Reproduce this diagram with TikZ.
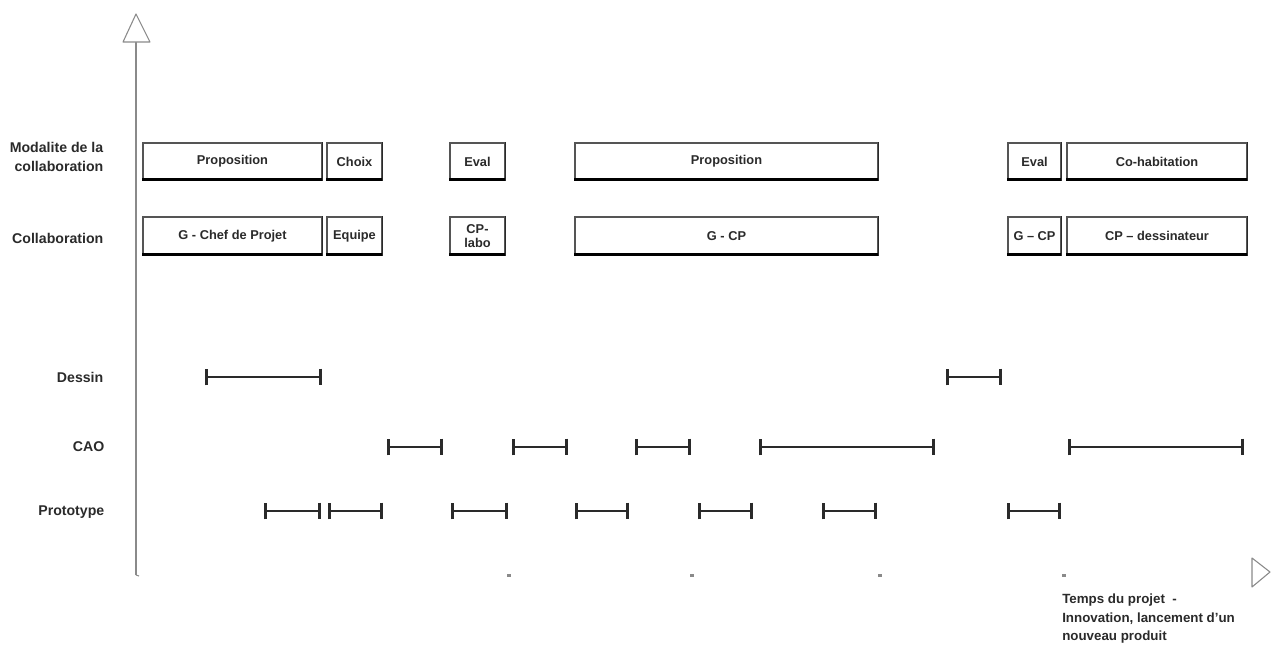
\documentclass[tikz,border=0pt]{standalone}
\usepackage{fontspec}
\setmainfont{Liberation Sans}
\usetikzlibrary{arrows.meta}
\definecolor{axisgray}{HTML}{8A8A8A}
\definecolor{framegray}{HTML}{555555}
\definecolor{inkgray}{HTML}{2A2A2A}
\tikzset{
  tbox/.style={draw=framegray, line width=0.9pt, fill=white, inner sep=0pt,
    font=\bfseries\fontsize{9.6}{10.2}\selectfont, text=inkgray, align=center},
  shadowline/.style={line width=2.4pt, black},
  sideline/.style={line width=1.3pt, inkgray},
  rowlabel/.style={anchor=east, font=\bfseries\fontsize{10.6}{14}\selectfont, align=right, text=inkgray},
  spanline/.style={line width=1.9pt, inkgray, {Bar[width=12.5pt,line width=1.9pt]}-{Bar[width=12.5pt,line width=1.9pt]}},
  axisline/.style={line width=1.4pt, axisgray},
  axishead/.style={draw=axisgray, line width=0.8pt, fill=white, line join=round},
  tickmark/.style={fill=axisgray},
  notetext/.style={anchor=west, text=inkgray, inner sep=0pt}
}
% box: name, x-left, x-right, y-top, y-bottom, text
\newcommand\tlbox[6]{%
  \node[tbox, minimum width={(#3-#2)*0.75pt}, minimum height={(#5-#4)*0.75pt}]
    (#1) at ({(#2+#3)/2},{(#4+#5)/2}) {#6};
  \draw[shadowline] ([yshift=1.1pt]#1.south west) -- ([yshift=1.1pt]#1.south east);
  \draw[sideline] (#1.north east) -- (#1.south east);}
% activity span: x-start, x-end, y
\newcommand\tlspan[3]{\draw[spanline] (#1,#3) -- (#2,#3);}
\begin{document}
\begin{tikzpicture}[x=0.75pt, y=-0.75pt]
\useasboundingbox (0,0) rectangle (1271,647);

% vertical axis with open arrow head
\coordinate (ybase) at (136,575);
\coordinate (ytop) at (136,42);
\draw[axisline] (ybase) -- (ytop);
\draw[axisline, line width=0.8pt] (ybase) -- (139,576);
\draw[axishead] (123,42) -- (136,14) -- (150,42) -- cycle;

% time axis: tick marks and open arrow head
\foreach \tx in {509,692,880,1064}
  \fill[tickmark] (\tx-2,574) rectangle (\tx+2,576.5);
\draw[axishead] (1252,558) -- (1270,572) -- (1252,587) -- cycle;

% row labels
\node[rowlabel] (lmod) at (108,157) {Modalite de la\\collaboration};
\node[rowlabel] (lcol) at (108,238) {Collaboration};
\node[rowlabel] (ldes) at (108,377) {Dessin};
\node[rowlabel] (lcao) at (109,447) {CAO};
\node[rowlabel] (lpro) at (109,512) {Prototype};

% modality of the collaboration
\tlbox{m1}{143}{322}{143}{180}{Proposition}
\tlbox{m2}{327}{382}{143}{180}{Choix}
\tlbox{m3}{450}{505}{143}{180}{Eval}
\tlbox{m4}{575}{878}{143}{180}{Proposition}
\tlbox{m5}{1008}{1061}{143}{180}{Eval}
\tlbox{m6}{1067}{1247}{143}{180}{Co-habitation}

% collaboration partners
\tlbox{c1}{143}{322}{217}{255}{G - Chef de Projet}
\tlbox{c2}{327}{382}{217}{255}{Equipe}
\tlbox{c3}{450}{505}{217}{255}{CP-\\labo}
\tlbox{c4}{575}{878}{217}{255}{G - CP}
\tlbox{c5}{1008}{1061}{217}{255}{G -- CP}
\tlbox{c6}{1067}{1247}{217}{255}{CP -- dessinateur}

% Dessin
\tlspan{205}{322}{377}
\tlspan{946}{1002}{377}

% CAO
\tlspan{387}{443}{447}
\tlspan{512}{568}{447}
\tlspan{635}{691}{447}
\tlspan{759}{935}{447}
\tlspan{1068}{1244}{447}

% Prototype
\tlspan{264}{321}{511}
\tlspan{328}{383}{511}
\tlspan{451}{508}{511}
\tlspan{575}{629}{511}
\tlspan{698}{753}{511}
\tlspan{822}{877}{511}
\tlspan{1007}{1061}{511}

% time axis caption
\node[notetext, font=\bfseries\fontsize{10}{11}\selectfont] (tcap) at (1062,600) {Temps du projet \ -};
\node[notetext, font=\bfseries\fontsize{10}{11}\selectfont] (tsub1) at (1062,619) {Innovation, lancement d'un};
\node[notetext, font=\bfseries\fontsize{10}{11}\selectfont] (tsub2) at (1062,637) {nouveau produit};
\end{tikzpicture}
\end{document}
